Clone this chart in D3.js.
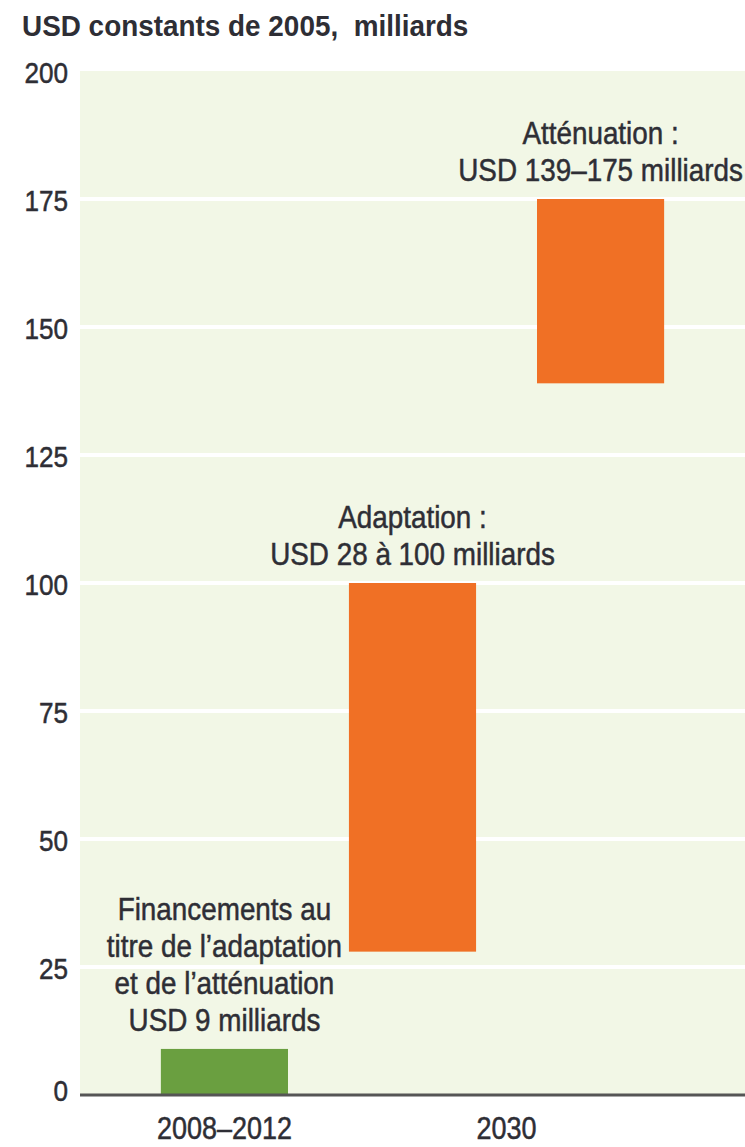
<!DOCTYPE html>
<html>
<head>
<meta charset="utf-8">
<script src="https://cdn.jsdelivr.net/npm/d3@7"></script>
<style>
  body { margin: 0; background: #fff; }
  svg text { font-family: "Liberation Sans", Arial, sans-serif; fill: #2e2e35; }
  .cond { font-size: 32px; stroke: #2e2e35; stroke-width: 0.5px; }
</style>
</head>
<body>
<div id="chart"></div>
<script>
// Chart data
const bars = ["Financements", "Adaptation", "Atténuation"];
const lows = [0, 28, 139];
const highs = [9, 100, 175];
const barPeriods = ["2008–2012", "2030", "2030"];
const periods = ["2008–2012", "2030"];
const annotations = [
    ["Financements au", "titre de l’adaptation", "et de l’atténuation", "USD 9 milliards"],
    ["Adaptation :", "USD 28 à 100 milliards"],
    ["Atténuation :", "USD 139–175 milliards"]
];
const yTicks = [0, 25, 50, 75, 100, 125, 150, 175, 200];
const title = "USD constants de 2005,  milliards";

const width = 745, height = 1147;
const margin = {top: 71, right: 0, bottom: 52, left: 80};
const squeeze = 0.87; // horizontal compression to mimic the condensed face

const svg = d3.select("#chart")
    .append("svg")
    .attr("width", width)
    .attr("height", height);

const x = d3.scaleBand()
    .domain(bars)
    .range([margin.left, width - margin.right])
    .paddingInner(0.324)
    .paddingOuter(0.43);

const y = d3.scaleLinear()
    .domain([0, 200])
    .range([height - margin.bottom, margin.top]);

// condensed text helper
function condText(g, tx, ty, str, anchor) {
    return g.append("text")
        .attr("class", "cond")
        .attr("transform", `translate(${tx},${ty}) scale(${squeeze},1)`)
        .attr("text-anchor", anchor)
        .text(str);
}

// Plot background
svg.append("rect")
    .attr("x", margin.left)
    .attr("y", y(200))
    .attr("width", width - margin.right - margin.left)
    .attr("height", y(0) - y(200))
    .attr("fill", "#f2f7e6");

// Grid lines
svg.append("g")
    .selectAll("line")
    .data(yTicks.filter(d => d > 0 && d < 200))
    .enter()
    .append("line")
    .attr("x1", margin.left)
    .attr("x2", width - margin.right)
    .attr("y1", d => y(d))
    .attr("y2", d => y(d))
    .attr("stroke", "#ffffff")
    .attr("stroke-width", 4);

// Y axis: use d3 axis for tick positions, then restyle labels
const yAxis = svg.append("g")
    .call(d3.axisLeft(y).tickValues(yTicks).tickSize(0).tickFormat(""));
yAxis.select(".domain").remove();
yAxis.selectAll(".tick").each(function(d) {
    condText(d3.select(this), 68, d === 0 ? 5 : 11, d, "end").style("font-size", "30px");
});

// Bars
svg.append("g")
    .selectAll("rect")
    .data(bars)
    .enter()
    .append("rect")
    .attr("x", d => x(d))
    .attr("width", x.bandwidth())
    .attr("y", (d, i) => y(highs[i]))
    .attr("height", (d, i) => y(lows[i]) - y(highs[i]))
    .attr("fill", (d, i) => i === 0 ? "#6a9f40" : "#f07025");

// Baseline
svg.append("line")
    .attr("x1", margin.left)
    .attr("x2", width)
    .attr("y1", y(0))
    .attr("y2", y(0))
    .attr("stroke", "#555")
    .attr("stroke-width", 3);

// X labels (centred under the bars of each period)
const xg = svg.append("g");
periods.forEach(p => {
    const cx = d3.mean(bars.filter((b, i) => barPeriods[i] === p), b => x(b) + x.bandwidth() / 2);
    condText(xg, cx, height - 8, p, "middle").style("font-size", "31px");
});

// Annotations above bars
const lineH = 37;
const ag = svg.append("g");
bars.forEach((b, i) => {
    const lines = annotations[i];
    const cx = x(b) + x.bandwidth() / 2;
    const base = y(highs[i]) - 18;
    lines.forEach((t, j) => {
        condText(ag, cx, base - (lines.length - 1 - j) * lineH, t, "middle");
    });
});

// Title
svg.append("text")
    .attr("transform", `translate(22,36) scale(0.93,1)`)
    .style("font-size", "30px")
    .style("font-weight", "bold")
    .style("white-space", "pre")
    .text(title);
</script>
</body>
</html>
